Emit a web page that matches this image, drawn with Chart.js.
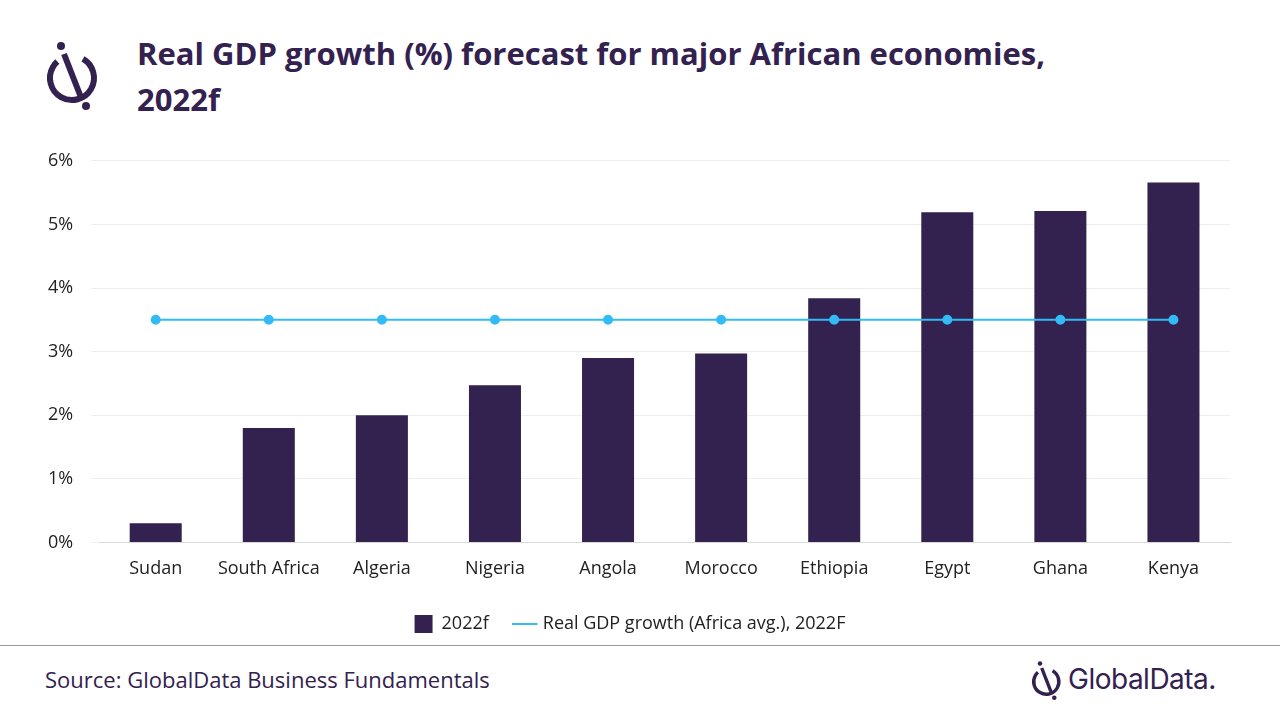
<!DOCTYPE html>
<html>
<head>
<meta charset="utf-8">
<script src="https://cdn.jsdelivr.net/npm/chart.js@4"></script>
<style>
  body { margin: 0; width: 1280px; height: 720px; background: #fff; font-family: "Open Sans", sans-serif; position: relative; overflow: hidden; }
  h1 { position: absolute; left: 137px; top: 30px; margin: 0; font-size: 31px; line-height: 46px; color: #33214f; font-weight: 700; }
  #wrap { position: absolute; left: 30px; top: 132px; width: 1210px; height: 511px; }
  .rule { position: absolute; left: 0; top: 645px; width: 1280px; border-top: 1px solid #999; }
  .src { position: absolute; left: 45px; top: 664px; font-size: 22px; color: #33214f; }
  .brand { position: absolute; left: 1068px; top: 662px; font-size: 28px; color: #33214f; font-family: Inter, sans-serif; letter-spacing: -0.5px; }
</style>
</head>
<body>
<svg style="position:absolute;left:44px;top:40px" width="62" height="70" viewBox="0 0 62 70">
  <circle cx="28" cy="38" r="22" fill="none" stroke="#33214f" stroke-width="6" stroke-dasharray="110 28" transform="rotate(-60 28 38)"/>
  <line x1="20" y1="14" x2="38" y2="60" stroke="#33214f" stroke-width="6"/>
  <circle cx="17" cy="6" r="4" fill="#33214f"/>
  <circle cx="42" cy="66" r="4" fill="#33214f"/>
</svg>
<h1>Real GDP growth (%) forecast for major African economies,<br>2022f</h1>
<div id="wrap"><canvas id="c"></canvas></div>
<div class="rule"></div>
<div class="src">Source: GlobalData Business Fundamentals</div>
<svg style="position:absolute;left:1030px;top:660px" width="36" height="40" viewBox="0 0 62 70">
  <circle cx="28" cy="38" r="22" fill="none" stroke="#33214f" stroke-width="6" stroke-dasharray="110 28" transform="rotate(-60 28 38)"/>
  <line x1="20" y1="14" x2="38" y2="60" stroke="#33214f" stroke-width="6"/>
  <circle cx="17" cy="6" r="4" fill="#33214f"/>
  <circle cx="42" cy="66" r="4" fill="#33214f"/>
</svg>
<div class="brand">GlobalData.</div>
<script>
const categories = ['Sudan', 'South Africa', 'Algeria', 'Nigeria', 'Angola', 'Morocco', 'Ethiopia', 'Egypt', 'Ghana', 'Kenya'];
const growth2022 = [0.30, 1.80, 2.00, 2.47, 2.90, 2.97, 3.84, 5.19, 5.21, 5.66];
const africaAvg = [3.5, 3.5, 3.5, 3.5, 3.5, 3.5, 3.5, 3.5, 3.5, 3.5];

new Chart(document.getElementById('c'), {
  data: {
    labels: categories,
    datasets: [
      { type: 'line', label: 'Real GDP growth (Africa avg.), 2022F', data: africaAvg,
        borderColor: '#33bbf5', backgroundColor: '#33bbf5', borderWidth: 2,
        pointRadius: 4, pointHoverRadius: 4, order: 0 },
      { type: 'bar', label: '2022f', data: growth2022, backgroundColor: '#33214f',
        categoryPercentage: 1, barPercentage: 0.46, order: 1 }
    ]
  },
  options: {
    responsive: true, maintainAspectRatio: false, animation: false,
    layout: { padding: { top: 8, right: 10 } },
    scales: {
      x: { grid: { display: false }, border: { color: '#d9d9d9' },
        ticks: { color: '#222', font: { size: 18, family: 'Open Sans' }, padding: 8 } },
      y: { min: 0, max: 6, border: { display: false },
        grid: { color: '#eeeeee' },
        ticks: { stepSize: 1, color: '#222', padding: 18, font: { size: 18, family: 'Open Sans' },
          callback: v => v + '%' } }
    },
    plugins: {
      legend: { position: 'bottom', reverse: true,
        labels: { color: '#222', font: { size: 18, family: 'Open Sans' }, padding: 27,
          usePointStyle: true,
          generateLabels: chart => Chart.defaults.plugins.legend.labels.generateLabels(chart).map(l => {
            l.pointStyle = l.datasetIndex === 1 ? 'rect' : 'line';
            l.lineWidth = l.datasetIndex === 1 ? 0 : 2;
            return l;
          }) } },
      tooltip: { enabled: false }
    }
  }
});
</script>
</body>
</html>
